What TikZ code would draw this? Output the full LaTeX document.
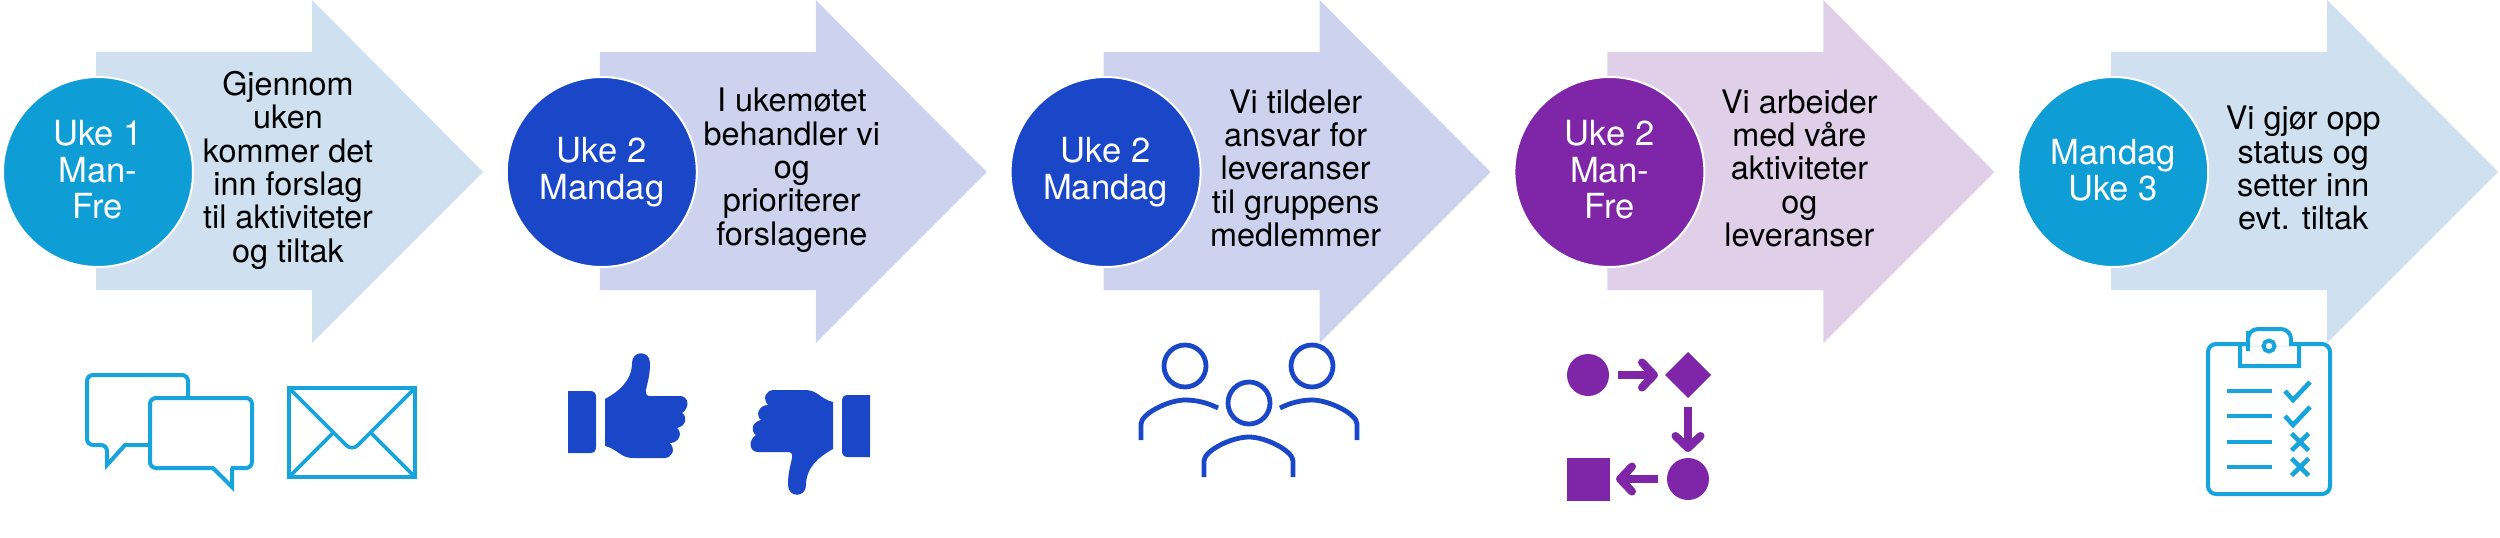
\documentclass[tikz,border=0pt]{standalone}
\usepackage{fontspec}
\setmainfont{TeX Gyre Heros}
\usetikzlibrary{arrows.meta,shapes.geometric}

\definecolor{lysblaa}{HTML}{CFE0F0}
\definecolor{lysindigo}{HTML}{CDD3EE}
\definecolor{lyslilla}{HTML}{E0CFE8}
\definecolor{himmel}{HTML}{0F9DD6}
\definecolor{ikonblaa}{HTML}{17A3DB}
\definecolor{kongeblaa}{HTML}{1A47C8}
\definecolor{lilla}{HTML}{7E25A8}

\newcommand{\linjestag}{\rule[-2.3pt]{0pt}{14.3pt}}

\tikzset{
  ukedot/.style={circle,draw=white,line width=1pt,text=white,minimum size=95pt,inner sep=0pt,
    align=center,font=\fontsize{17.3}{18.3}\selectfont,
    execute at begin node=\linjestag,execute at end node=\linjestag},
  tekst/.style={align=center,text=black,inner sep=0pt,font=\fontsize{16.2}{16.7}\selectfont,
    execute at begin node=\linjestag,execute at end node=\linjestag},
  ikon/.style={line width=2pt,line join=miter},
  flytform/.style={fill=lilla,inner sep=0pt,outer sep=0pt},
  flytpil/.style={lilla,line width=4pt,-{Straight Barb[length=6pt,width=12.5pt,round]}},
  tommel/.pic={
    \fill[kongeblaa] (568,391) -- (590,391) .. controls (594,391) and (596,393) .. (596,397)
      -- (596,447) .. controls (596,451) and (594,453) .. (590,453) -- (568,453) -- cycle;
    \fill[kongeblaa] (605,399) .. controls (618,392) and (632,381) .. (632,363)
      .. controls (632,350) and (650,350) .. (650,363)
      .. controls (650,375) and (648,380) .. (646,390)
      .. controls (645,394) and (647,396) .. (650,396) -- (680,396)
      .. controls (689,396) and (690,408) .. (682,413)
      .. controls (688,417) and (686,426) .. (677,428)
      .. controls (683,433) and (679,443) .. (670,443)
      .. controls (676,450) and (672,458) .. (664,458) -- (633,458)
      .. controls (620,458) and (618,449) .. (605,446) -- cycle;
  }
}

\begin{document}
\begin{tikzpicture}[x=0.5pt,y=-0.5pt]
  \useasboundingbox (0,0) rectangle (2500,537);

  % Piler og sirkler
  \foreach \n/\lys/\sterk/\naar/\hva in {
    0/lysblaa/himmel/{Uke 1\\Man-\\Fre}/{Gjennom\\uken\\kommer det\\inn forslag\\til aktiviteter\\og tiltak},
    1/lysindigo/kongeblaa/{Uke 2\\Mandag}/{I ukemøtet\\behandler vi\\og\\prioriterer\\forslagene},
    2/lysindigo/kongeblaa/{Uke 2\\Mandag}/{Vi tildeler\\ansvar for\\leveranser\\til gruppens\\medlemmer},
    3/lyslilla/lilla/{Uke 2\\Man-\\Fre}/{Vi arbeider\\med våre\\aktiviteter\\og\\leveranser},
    4/lysblaa/himmel/{Mandag\\Uke 3}/{Vi gjør opp\\status og\\setter inn\\evt. tiltak}}{
    \begin{scope}[xshift=\n*251.9pt]
      \fill[\lys] (96,52) -- (312,52) -- (312,0) -- (483,172) -- (312,343) -- (312,290) -- (96,290) -- cycle;
      \node[ukedot,fill=\sterk] (uke\n) at (98,172) {\naar};
      \node[tekst] (hva\n) at (288,170.3) {\hva};
    \end{scope}
  }

  % Snakkebobler
  \draw[ikon,ikonblaa,rounded corners=3pt] (188,397) -- (188,375) -- (87,375) -- (87,445)
    -- (107,445) [sharp corners] -- (107,465) -- (125,445) -- (150,445);
  \draw[ikon,ikonblaa,rounded corners=3pt] (150,398) rectangle (252,468);
  \fill[white] (214,466) rectangle (231,470);
  \draw[ikon,ikonblaa] (213,468) -- (232,487) -- (232,468);

  % Konvolutt
  \draw[ikon,ikonblaa,line width=1.8pt] (289,388) rectangle (415,477);
  \draw[ikon,ikonblaa,line width=1.8pt,rounded corners=4pt] (289,388) -- (352,451) -- (415,388);
  \draw[ikon,ikonblaa,line width=1.8pt] (289,477) -- (333,433) (415,477) -- (371,433);

  % Tommel opp og ned
  \pic {tommel};
  \begin{scope}[rotate around={180:(719,424)}]
    \pic[transform shape] {tommel};
  \end{scope}

  % Gruppe
  \begin{scope}[ikon,kongeblaa,line width=2.4pt]
    \draw (1185,366) circle (21);
    \draw (1249,403) circle (21);
    \draw (1312,366) circle (21);
    \draw (1141,440) -- (1141,424) .. controls (1141,414) and (1168,400) .. (1185,400)
      .. controls (1197,400) and (1208,403) .. (1218,408);
    \draw (1204,477) -- (1204,461) .. controls (1204,451) and (1231,437) .. (1249,437)
      .. controls (1266,437) and (1293,451) .. (1293,461) -- (1293,477);
    \draw (1357,440) -- (1357,424) .. controls (1357,414) and (1329,400) .. (1312,400)
      .. controls (1301,400) and (1290,403) .. (1280,408);
  \end{scope}

  % Flytskjema
  \node[flytform,circle,minimum size=21pt] (flytstart) at (1588,375) {};
  \node[flytform,diamond,minimum size=23pt] (flytvalg) at (1688,375) {};
  \node[flytform,circle,minimum size=21pt] (flytsteg) at (1688,479) {};
  \node[flytform,minimum size=21.5pt] (flytslutt) at (1588.5,479) {};
  \draw[flytpil,shorten <=4.5pt,shorten >=3.5pt] (flytstart) -- (flytvalg);
  \draw[flytpil,shorten <=4.5pt,shorten >=3pt] (flytvalg) -- (flytsteg);
  \draw[flytpil,shorten <=4.5pt,shorten >=3pt] (flytsteg) -- (flytslutt);

  % Sjekkliste
  \begin{scope}[ikon,ikonblaa]
    \draw[rounded corners=4pt] (2208,344) rectangle (2330,494);
    \fill[white] (2242,342) rectangle (2297,346);
    \draw (2240,344) -- (2240,366) -- (2299,366) -- (2299,344) -- (2291,344) -- (2291,341)
      [rounded corners=5pt] -- (2291,329) -- (2248,329) -- (2248,341) [sharp corners] -- (2248,344) -- cycle;
    \draw (2269,346) circle (5.5);
    \foreach \y in {391,416,442,467}{
      \draw[line width=2.3pt] (2227,\y) -- (2272,\y);
    }
    \foreach \y in {0,25}{
      \draw[line width=2.3pt] (2285,391+\y) -- (2293,400+\y) -- (2310,382+\y);
    }
    \foreach \y in {442,467}{
      \draw[line width=2.3pt] (2291.5,\y-8.5) -- (2308.5,\y+8.5) (2291.5,\y+8.5) -- (2308.5,\y-8.5);
    }
  \end{scope}
\end{tikzpicture}
\end{document}
